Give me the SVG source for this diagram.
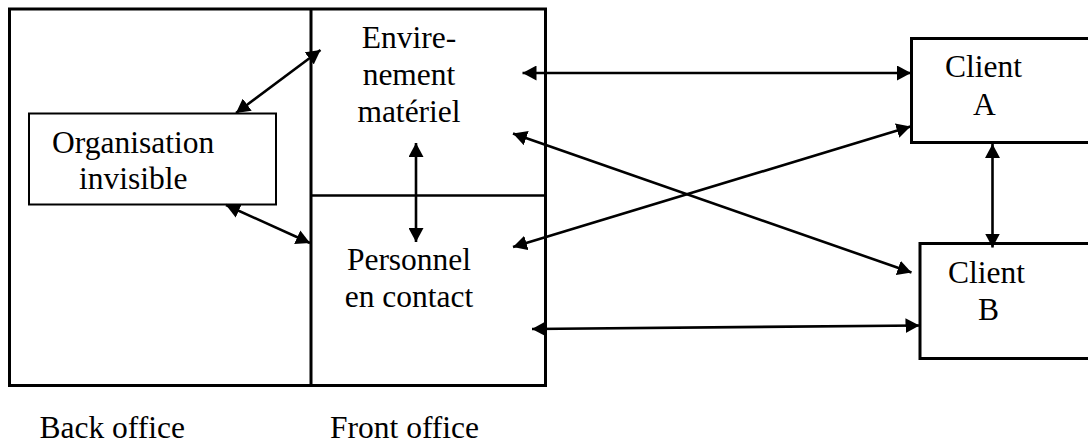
<svg xmlns="http://www.w3.org/2000/svg" width="1088" height="445" viewBox="0 0 1088 445">
  <style>
    .box { fill: none; stroke: #000; stroke-width: 3; }
    .thin { fill: none; stroke: #000; stroke-width: 2; }
    .lbl { font-family: "Liberation Serif", "Times New Roman", serif; font-size: 31.5px; fill: #000; }
    .mid { text-anchor: middle; }
    .link { fill: none; stroke: #000; stroke-width: 2.6; marker-start: url(#head); marker-end: url(#head); }
  </style>
  <defs>
    <marker id="head" markerUnits="userSpaceOnUse" viewBox="0 0 14 15" markerWidth="14" markerHeight="15" refX="14" refY="7.5" orient="auto-start-reverse">
      <path d="M0,0 L14,7.5 L0,15 Z" fill="#000"/>
    </marker>
  </defs>
  <rect width="1088" height="445" fill="#fff"/>

  <!-- service company: back office / front office frame -->
  <g id="company">
    <rect class="box" x="9.5" y="9" width="536" height="376.5"/>
    <line class="box" x1="311" y1="9" x2="311" y2="385.5"/>
    <line x1="311" y1="195.5" x2="545.5" y2="195.5" stroke="#000" stroke-width="2.5"/>
  </g>

  <g id="organisation">
    <rect class="thin" x="29" y="113.5" width="247" height="91"/>
    <text class="lbl" x="52" y="153">Organisation</text>
    <text class="lbl" x="79" y="189">invisible</text>
  </g>

  <g id="environnement">
    <text class="lbl mid" x="409" y="48">Envire-</text>
    <text class="lbl mid" x="409" y="85">nement</text>
    <text class="lbl mid" x="409" y="122">matériel</text>
  </g>

  <g id="personnel">
    <text class="lbl mid" x="409" y="270">Personnel</text>
    <text class="lbl mid" x="409" y="307">en contact</text>
  </g>

  <g id="clientA">
    <rect class="box" x="911.5" y="38.5" width="190" height="104"/>
    <text class="lbl" x="945" y="77">Client</text>
    <text class="lbl" x="973" y="115">A</text>
  </g>

  <g id="clientB">
    <rect class="box" x="920" y="243.5" width="180" height="115"/>
    <text class="lbl" x="948" y="283">Client</text>
    <text class="lbl" x="978" y="320">B</text>
  </g>

  <g id="footer">
    <text class="lbl" x="39.5" y="438">Back office</text>
    <text class="lbl" x="330" y="438">Front office</text>
  </g>

  <!-- two-way connectors -->
  <g id="connectors">
    <line class="link" x1="236" y1="113" x2="320.5" y2="50"/>
    <line class="link" x1="226" y1="205" x2="310" y2="243"/>
    <line class="link" x1="416" y1="143" x2="416" y2="242"/>
    <line class="link" x1="522.5" y1="73" x2="911" y2="73"/>
    <line class="link" x1="513" y1="133.5" x2="911.5" y2="272.5"/>
    <line class="link" x1="513" y1="247" x2="910.5" y2="126.5"/>
    <line class="link" x1="532" y1="329" x2="919.5" y2="325.5"/>
    <line class="link" x1="992.5" y1="144" x2="992.5" y2="247.5"/>
  </g>
</svg>
